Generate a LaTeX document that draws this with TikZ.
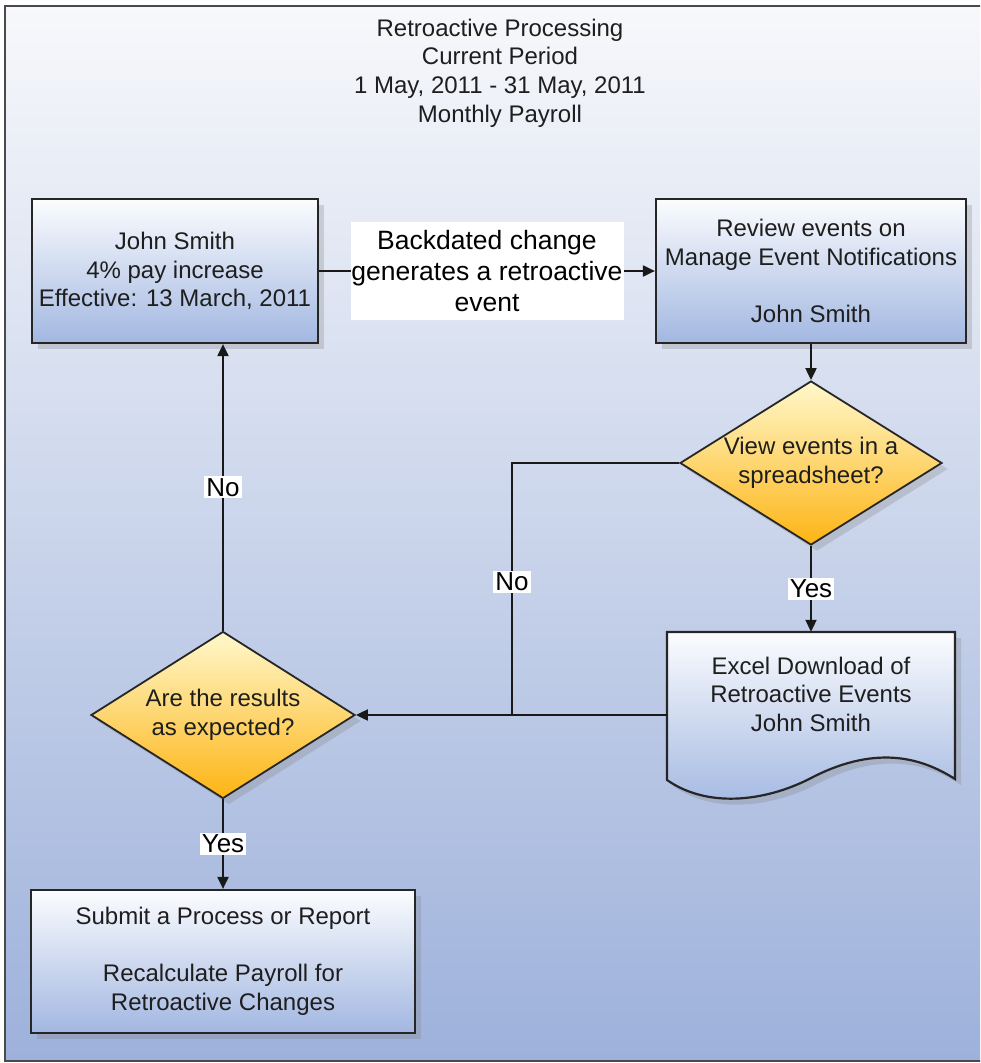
\documentclass[tikz,border=0pt]{standalone}
\usepackage{fontspec}
\setmainfont{Liberation Sans}
\usetikzlibrary{shapes.geometric,arrows.meta,shadows}
\definecolor{bgtop}{HTML}{F7F8FB}
\definecolor{bgbot}{HTML}{9DB1DB}
\definecolor{boxtop}{HTML}{FBFCFE}
\definecolor{boxbot}{HTML}{A2B7E1}
\definecolor{dtop}{HTML}{FFF8CC}
\definecolor{dbot}{HTML}{FDB414}
\definecolor{framecol}{HTML}{4A4A4A}
\definecolor{txt}{HTML}{1E1E1E}
\begin{document}
\begin{tikzpicture}[x=1pt,y=-1pt,
  every node/.style={font=\fontsize{24}{28.5}\selectfont, text=txt},
  shadowed/.style={drop shadow={opacity=0.28, shadow xshift=6pt, shadow yshift=-6pt}},
  procbox/.style={rectangle, draw=black!85, line width=2.2pt, top color=boxtop, bottom color=boxbot,
    align=center, inner sep=0pt, shadowed},
  decbox/.style={diamond, draw=black!85, line width=1.8pt, top color=dtop, bottom color=dbot,
    inner sep=0pt, shadowed},
  conn/.style={line width=2pt, draw=black!90},
  arr/.style={conn, -{Triangle[length=12pt,width=11pt]}},
  tag/.style={fill=white, inner sep=2pt, font=\fontsize{26}{30}\selectfont, text=black}
]
\useasboundingbox (0,0) rectangle (980,1063);
\clip (0,0) rectangle (980,1063);

% background frame
\path[draw=framecol, line width=2.5pt, top color=bgtop, bottom color=bgbot] (5,6) rectangle (1000,1061);

% title
\node[align=center, font=\fontsize{24}{28.7}\selectfont] (title) at (500,73)
  {Retroactive Processing\\Current Period\\1 May, 2011 - 31 May, 2011\\Monthly Payroll};

% boxes
\node[procbox, minimum width=286pt, minimum height=144pt] (b1) at (175,271)
  {John Smith\\4\% pay increase\\Effective: 13 March, 2011};
\node[procbox, minimum width=310pt, minimum height=144pt] (b2) at (811,271)
  {Review events on\\Manage Event Notifications\\[28.5pt]John Smith};
\node[procbox, minimum width=384pt, minimum height=143pt] (b3) at (223,961.5)
  {Submit a Process or Report\\[28.5pt]Recalculate Payroll for\\Retroactive Changes};

% decisions
\node[decbox, minimum width=262pt, minimum height=164pt,
  label={[align=center, name=d1t]center:View events in a\\spreadsheet?}] (d1) at (811,463) {};
\node[decbox, minimum width=264pt, minimum height=167pt,
  label={[align=center, name=d2t]center:Are the results\\as expected?}] (d2) at (223,715) {};

% document shape
\path[draw=black!85, line width=2.2pt, top color=boxtop, bottom color=boxbot, shadowed]
  (667,632) -- (955,632) -- (955,779)
  .. controls (925,760) and (880,743) .. (813,777)
  .. controls (770,800) and (710,810) .. (667,780) -- cycle;
\node[minimum width=288pt, minimum height=166pt, inner sep=0pt] (doc) at (811,715) {};
\node[align=center] (doct) at (811,694) {Excel Download of\\Retroactive Events\\John Smith};

% connectors
\draw[arr] (b1.east) -- (b2.west)
  node[midway, fill=white, align=center, inner sep=0pt, minimum width=273pt, minimum height=98pt,
       font=\fontsize{26.5}{31}\selectfont, text=black] (lab) {Backdated change\\generates a retroactive\\event};
\draw[arr] (b2.south) -- (d1.north);
\draw[arr] (d1.south) -- (doc.north) node[midway, tag] (yes1) {Yes};
\coordinate (j) at (512,715);
\draw[conn] (d1.west) -| (j) node[pos=0.736, tag] (no1) {No};
\draw[arr] (doc.west) -- (d2.east);
\draw[arr] (d2.north) -- (d2.north |- b1.south) node[midway, tag] (no2) {No};
\draw[arr] (d2.south) -- (b3.north) node[midway, tag] (yes2) {Yes};
\end{tikzpicture}
\end{document}
